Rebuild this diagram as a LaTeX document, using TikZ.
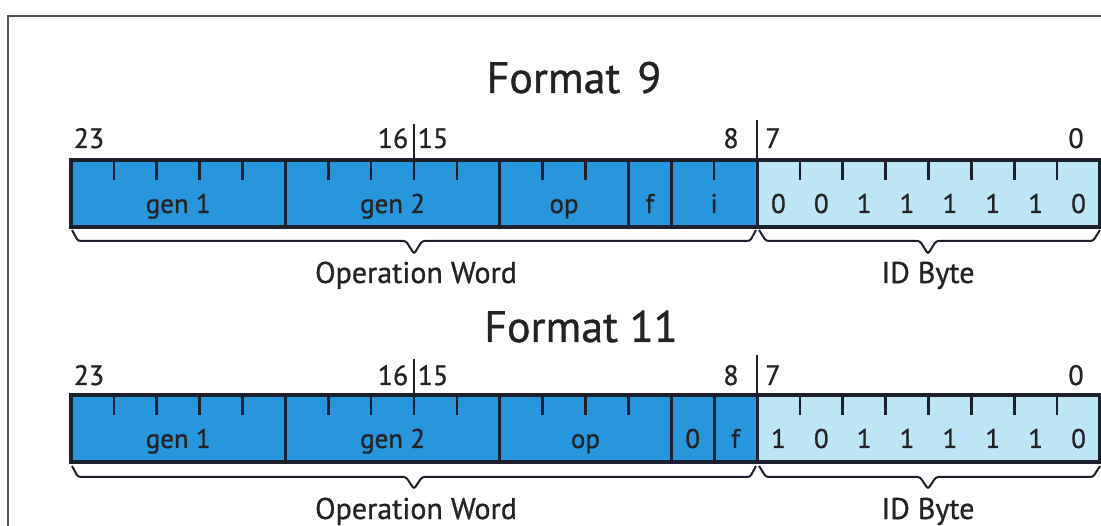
\documentclass[tikz,border=0pt]{standalone}
\usepackage{fontspec}
\setmainfont{PT Sans}[FakeBold=0.9]
\definecolor{opblue}{RGB}{40,150,220}
\definecolor{idblue}{RGB}{188,230,246}
\definecolor{outl}{RGB}{28,32,44}
\definecolor{txt}{RGB}{35,35,38}
\definecolor{framec}{RGB}{85,85,85}
\begin{document}
\begin{tikzpicture}[x=1pt,y=-1pt,
  wf/.style={fill=opblue, draw=outl, line width=3pt, minimum height=67pt,
    inner sep=0pt, outer sep=0pt, anchor=north west},
  idf/.style={wf, fill=idblue},
  tck/.style={draw=outl, line width=2.6pt},
  outerbox/.style={draw=outl, line width=3.6pt},
  brc/.style={draw=outl, line width=2pt, rounded corners=2.5pt},
  ttl/.style={text=txt, font=\fontsize{44}{48}\selectfont, anchor=base, inner sep=0pt},
  num/.style={text=txt, font=\fontsize{28}{30}\selectfont, anchor=base, inner sep=0pt},
  fl/.style={text=txt, font=\fontsize{27}{29}\selectfont, anchor=base, inner sep=0pt},
  captxt/.style={text=txt, font=\fontsize{30}{32}\selectfont, anchor=base, inner sep=0pt}]
\useasboundingbox (0,0) rectangle (1101,526);
\draw[framec, line width=1.5pt] (8,526) -- (8,16) -- (1101,16);
\def\bw{42.875}
% ================= Format 9 =================
\node[ttl] (t9) at (574,93) {Format\hspace{17pt}9};
\node[wf, minimum width=5*\bw pt] (a9gen1) at (71,160) {};
\node[wf, minimum width=5*\bw pt] (a9gen2) at ({71+5*\bw},160) {};
\node[wf, minimum width=3*\bw pt] (a9op) at ({71+10*\bw},160) {};
\node[wf, minimum width=1*\bw pt] (a9f) at ({71+13*\bw},160) {};
\node[wf, minimum width=2*\bw pt] (a9i) at ({71+14*\bw},160) {};
\node[idf, minimum width=8*\bw pt] (a9id) at ({71+16*\bw},160) {};
\foreach \k in {1,2,3,4,6,7,9,11,12,15,17,18,19,20,21,22,23}
  \draw[tck] ({71+\k*\bw},160) -- ++(0,20);
\draw[tck] ({71+8*\bw},124) -- ++(0,56);
\draw[tck] ({71+16*\bw},120) -- ++(0,41);
\draw[outerbox] (a9gen1.north west) rectangle (a9id.south east);
\node[fl] (l9gen1) at ([yshift=-53pt]a9gen1.north) {gen 1};
\node[fl] (l9gen2) at ([yshift=-53pt]a9gen2.north) {gen 2};
\node[fl] (l9op) at ([yshift=-53pt]a9op.north) {op};
\node[fl] (l9f) at ([yshift=-53pt]a9f.north) {f};
\node[fl] (l9i) at ([yshift=-53pt]a9i.north) {i};
\foreach \v [count=\j from 0] in {0,0,1,1,1,1,1,0}
  \node[fl] (b9\j) at ({71+(16+\j+0.5)*\bw},213) {\v};
\node[num] (n9a) at (89,148) {23};
\node[num] (n9b) at (393,148) {16};
\node[num] (n9c) at (433,148) {15};
\node[num] (n9d) at (731,148) {8};
\node[num] (n9e) at (773,148) {7};
\node[num] (n9f) at (1076,148) {0};
\draw[brc] (72,230) -- (78,241) -- (406,241) -- (414,254) -- (422,241) -- (750,241) -- (756,230);
\draw[brc] (759,230) -- (766,241) -- (920,241) -- (928,254) -- (936,241) -- (1093,241) -- (1100,230);
\node[captxt] (c9ow) at (416,283) {Operation Word};
\node[captxt] (c9id) at (928,283) {ID Byte};
% ================= Format 11 =================
\node[ttl] (t11) at (581,342) {Format 11};
\node[wf, minimum width=5*\bw pt] (b11gen1) at (71,395) {};
\node[wf, minimum width=5*\bw pt] (b11gen2) at ({71+5*\bw},395) {};
\node[wf, minimum width=4*\bw pt] (b11op) at ({71+10*\bw},395) {};
\node[wf, minimum width=1*\bw pt] (b11z) at ({71+14*\bw},395) {};
\node[wf, minimum width=1*\bw pt] (b11f) at ({71+15*\bw},395) {};
\node[idf, minimum width=8*\bw pt] (b11id) at ({71+16*\bw},395) {};
\foreach \k in {1,2,3,4,6,7,9,11,12,13,17,18,19,20,21,22,23}
  \draw[tck] ({71+\k*\bw},395) -- ++(0,20);
\draw[tck] ({71+8*\bw},359) -- ++(0,56);
\draw[tck] ({71+16*\bw},355) -- ++(0,41);
\draw[outerbox] (b11gen1.north west) rectangle (b11id.south east);
\node[fl] (l11gen1) at ([yshift=-53pt]b11gen1.north) {gen 1};
\node[fl] (l11gen2) at ([yshift=-53pt]b11gen2.north) {gen 2};
\node[fl] (l11op) at ([yshift=-53pt]b11op.north) {op};
\node[fl] (l11z) at ([yshift=-53pt]b11z.north) {0};
\node[fl] (l11f) at ([yshift=-53pt]b11f.north) {f};
\foreach \v [count=\j from 0] in {1,0,1,1,1,1,1,0}
  \node[fl] (b11b\j) at ({71+(16+\j+0.5)*\bw},448) {\v};
\node[num] (n11a) at (89,385) {23};
\node[num] (n11b) at (393,385) {16};
\node[num] (n11c) at (433,385) {15};
\node[num] (n11d) at (731,385) {8};
\node[num] (n11e) at (773,385) {7};
\node[num] (n11f) at (1076,385) {0};
\draw[brc] (72,466) -- (78,477) -- (406,477) -- (414,489) -- (422,477) -- (750,477) -- (756,466);
\draw[brc] (759,466) -- (766,477) -- (920,477) -- (928,489) -- (936,477) -- (1093,477) -- (1100,466);
\node[captxt] (c11ow) at (416,519) {Operation Word};
\node[captxt] (c11id) at (928,519) {ID Byte};
\end{tikzpicture}
\end{document}
